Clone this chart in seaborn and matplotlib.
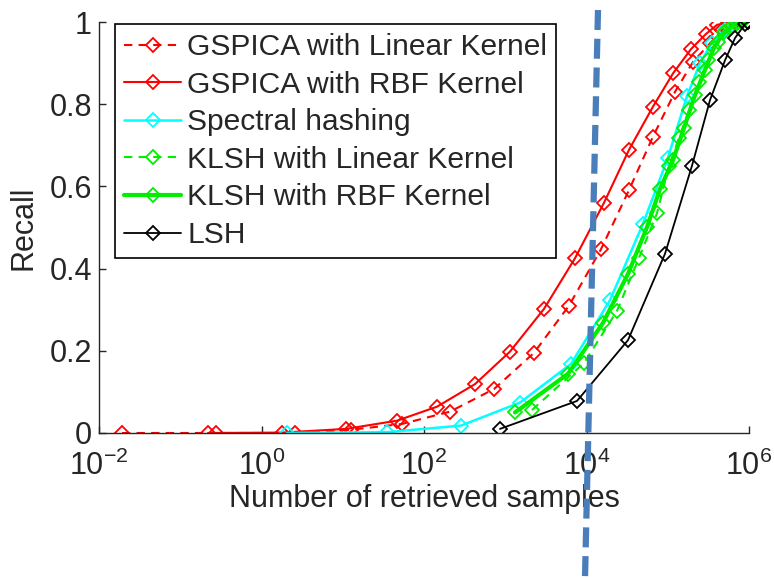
import matplotlib
matplotlib.use("Agg")
import matplotlib.pyplot as plt
from matplotlib.lines import Line2D
from matplotlib.ticker import NullLocator
import seaborn as sns
import pandas as pd

# log10 of number of retrieved samples, and recall
gspica_lin_x = [-1.717, -0.560, 0.412, 1.102, 1.729, 2.320, 2.862, 3.354, 3.785,
                4.178, 4.523, 4.818, 5.089, 5.311, 5.520, 5.668, 5.828]
gspica_lin_y = [0.0, 0.0, 0.0, 0.008, 0.022, 0.052, 0.107, 0.195, 0.31,
                0.447, 0.591, 0.721, 0.83, 0.903, 0.948, 0.98, 1.0]

gspica_rbf_x = [-0.658, 0.252, 1.040, 1.668, 2.160, 2.628, 3.058, 3.477, 3.858,
                4.215, 4.523, 4.818, 5.065, 5.286, 5.471, 5.606, 5.766]
gspica_rbf_y = [0.0, 0.001, 0.01, 0.03, 0.064, 0.119, 0.198, 0.302, 0.425,
                0.56, 0.689, 0.794, 0.875, 0.934, 0.971, 0.993, 1.0]

spectral_x = [0.314, 1.545, 2.455, 3.182, 3.809, 4.289, 4.695, 5.003, 5.237,
              5.397, 5.545, 5.705, 5.865]
spectral_y = [0.0, 0.002, 0.018, 0.074, 0.168, 0.323, 0.509, 0.67, 0.82,
              0.9, 0.95, 0.98, 1.0]

klsh_lin_x = [3.329, 3.969, 4.375, 4.646, 4.868, 5.015, 5.138, 5.262, 5.385,
              5.495, 5.618, 5.766, 5.914]
klsh_lin_y = [0.056, 0.17, 0.297, 0.426, 0.535, 0.65, 0.718, 0.786, 0.854,
              0.908, 0.951, 0.985, 1.0]

klsh_rbf_x = [3.12, 3.772, 4.203, 4.511, 4.745, 4.905, 5.065, 5.2, 5.335,
              5.458, 5.569, 5.692, 5.84, 5.988]
klsh_rbf_y = [0.05, 0.144, 0.268, 0.387, 0.501, 0.594, 0.664, 0.742, 0.822,
              0.883, 0.937, 0.976, 0.995, 1.0]

lsh_x = [2.935, 3.883, 4.511, 4.966, 5.298, 5.52, 5.705, 5.828, 5.951, 5.99]
lsh_y = [0.01, 0.078, 0.226, 0.436, 0.65, 0.81, 0.907, 0.961, 0.995, 1.0]

x_ticks = [1e-2, 1e0, 1e2, 1e4, 1e6]
y_ticks = [0, 0.2, 0.4, 0.6, 0.8, 1.0]
y_ticklabels = ["0", "0.2", "0.4", "0.6", "0.8", "1"]

series = [
    ("GSPICA with Linear Kernel", gspica_lin_x, gspica_lin_y, "#ff0000", (0, (4, 3)), 1.5),
    ("GSPICA with RBF Kernel", gspica_rbf_x, gspica_rbf_y, "#ff0000", "-", 1.5),
    ("Spectral hashing", spectral_x, spectral_y, "#00ffff", "-", 1.8),
    ("KLSH with Linear Kernel", klsh_lin_x, klsh_lin_y, "#00ee00", (0, (4, 3)), 1.5),
    ("KLSH with RBF Kernel", klsh_rbf_x, klsh_rbf_y, "#00ee00", "-", 3.0),
    ("LSH", lsh_x, lsh_y, "#000000", "-", 1.3),
]

sns.set_style("ticks")
plt.rcParams["font.family"] = ["Liberation Sans", "DejaVu Sans"]
plt.rcParams["mathtext.fontset"] = "custom"
plt.rcParams["mathtext.rm"] = "Liberation Sans"
plt.rcParams["mathtext.it"] = "Liberation Sans"

fig = plt.figure(figsize=(7.74, 5.78), dpi=100)
ax = fig.add_axes([99 / 774, 1 - 433 / 578, 650 / 774, 411 / 578])

for name, xs, ys, color, ls, lw in series:
    df = pd.DataFrame({"n": [10 ** v for v in xs], "recall": ys})
    sns.lineplot(data=df, x="n", y="recall", ax=ax, color=color, linestyle=ls,
                 linewidth=lw, marker="D", markersize=7, markerfacecolor="none",
                 markeredgecolor=color, markeredgewidth=1.3, label=name,
                 estimator=None, sort=False)

ax.set_xscale("log")
ax.set_xlim(1e-2, 1e6)
ax.set_ylim(0, 1)
ax.set_xticks(x_ticks)
ax.xaxis.set_minor_locator(NullLocator())
ax.set_yticks(y_ticks)
ax.set_yticklabels(y_ticklabels)
ax.tick_params(direction="in", length=5, width=1, labelsize=22)
ax.tick_params(axis="x", pad=13)
ax.tick_params(axis="y", pad=5)
for s in ["top", "right"]:
    ax.spines[s].set_visible(False)
ax.spines["left"].set_linewidth(1)
ax.spines["bottom"].set_linewidth(1)
ax.set_xlabel("Number of retrieved samples", fontsize=22, labelpad=1)
ax.set_ylabel("Recall", fontsize=22, labelpad=8)

leg = ax.legend(loc="upper left", bbox_to_anchor=(0.025, 0.995), borderaxespad=0,
                fontsize=21.6, frameon=True, fancybox=False, handlelength=1.9,
                handletextpad=0.2, labelspacing=0.32, borderpad=0.3)
leg.get_frame().set_edgecolor("black")
leg.get_frame().set_linewidth(1.2)
leg.get_frame().set_alpha(1)

# hand-drawn style marker line at ~1e4
fig.add_artist(Line2D([598 / 774, 585 / 774], [1 - 10 / 578, 0.0], transform=fig.transFigure,
                      color="#4a7ebb", linewidth=4.5, linestyle=(0, (3.2, 1.4))))

fig.savefig("out.png", dpi=100)
